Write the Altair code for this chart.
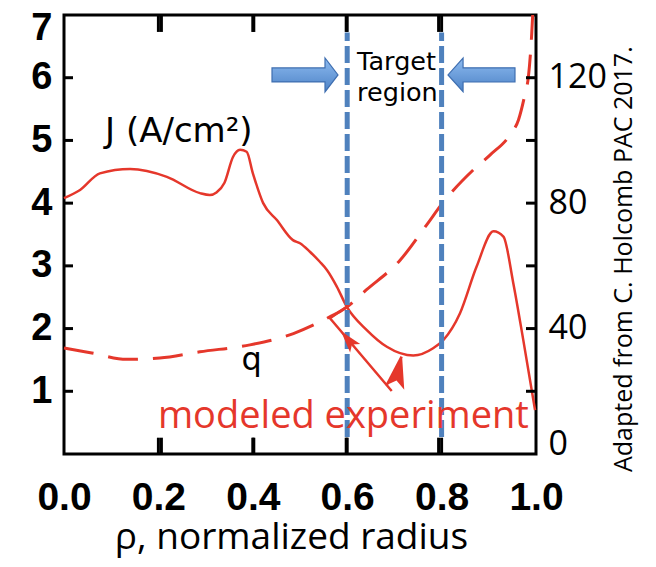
import altair as alt
import pandas as pd

# ---- data ----
rho_J = [0.000, 0.034, 0.076, 0.140, 0.218, 0.288, 0.309, 0.323, 0.340, 0.358, 0.373, 0.387,
         0.400, 0.422, 0.451, 0.485, 0.500, 0.521, 0.542, 0.557, 0.578, 0.599, 0.641, 0.684,
         0.740, 0.782, 0.804, 0.839, 0.874, 0.910, 0.931, 0.952, 0.973, 0.998]
J_vals = [81.6, 84.2, 89.5, 90.9, 88.4, 83.2, 82.6, 83.4, 86.5, 94.7, 97.0, 96.4,
          89.6, 80.0, 74.6, 68.2, 67.2, 64.5, 61.3, 58.7, 53.4, 47.0, 39.6, 34.2,
          31.4, 33.7, 36.4, 44.9, 59.7, 71.0, 69.3, 54.4, 36.4, 14.0]

rho_q = [0.000, 0.059, 0.133, 0.203, 0.288, 0.394, 0.486, 0.535, 0.564, 0.595, 0.641, 0.712,
         0.768, 0.804, 0.867, 0.903, 0.945, 0.963, 0.977, 0.984, 0.991, 0.993]
q_vals = [1.69, 1.61, 1.51, 1.53, 1.63, 1.74, 1.92, 2.08, 2.19, 2.32, 2.62, 3.09,
          3.65, 4.02, 4.53, 4.77, 5.09, 5.33, 5.75, 6.02, 6.71, 7.00]

x_ticks = [0.0, 0.2, 0.4, 0.6, 0.8, 1.0]
inner_x_ticks = [0.2, 0.4, 0.6, 0.8]
left_labels = [1, 2, 3, 4, 5, 6, 7]
left_ticks = [1, 2, 3, 4, 5, 6]
right_labels = [0, 40, 80, 120]
right_ticks = [20, 40, 60, 80, 100, 120]

target_rho = [0.6, 0.8]
target_lo, target_hi = 0.27, 6.72

# annotation anchors (data coordinates: rho, left-axis units)
arrow_line_a_rho = [0.5975, 0.5636, 0.6943]
arrow_line_a_y = [2.340, 2.164, 1.004]
arrow_line_b_rho = [0.6837, 0.7153]
arrow_line_b_y = [1.100, 1.552]
head_a = (0.6019, 1.821)
head_b = (0.7087, 1.308)
blue_left = (0.5106, 6.045)
blue_right = (0.8845, 6.045)

W, H = 472, 439
RED = "#e5372b"
BLUE = "#4f81bd"

xs = alt.Scale(domain=[0, 1], nice=False, zero=False)
yq = alt.Scale(domain=[0, 7], nice=False, zero=False)
yj = alt.Scale(domain=[0, 140], nice=False, zero=False)


def X(field, axis=None):
    return alt.X(field, scale=xs, axis=axis)


def YQ(field):
    return alt.Y(field, scale=yq, axis=None)


df_J = pd.DataFrame({"rho": rho_J, "J": J_vals})
df_q = pd.DataFrame({"rho": rho_q, "q": q_vals})

x_axis = alt.Axis(orient="bottom", values=x_ticks, format=".1f", tickSize=0, domain=False,
                  grid=False, labelFont="Liberation Sans", labelFontWeight="bold",
                  labelFontSize=39, labelColor="black", labelPadding=24, labelFlush=False,
                  title="ρ, normalized radius", titleFont="Open Sans", titleFontWeight="normal",
                  titleFontSize=37, titleColor="black", titleBaseline="alphabetic",
                  titleY=94, titleX=227, titleAlign="center")

left_axis = alt.Axis(orient="left", values=left_labels, tickSize=0, domain=False, grid=False,
                     labelFont="Liberation Sans", labelFontWeight="bold", labelFontSize=38,
                     labelColor="black", labelPadding=12, title=None,
                     labelFlush=True, labelFlushOffset=6)

right_axis = alt.Axis(orient="right", values=right_labels, tickSize=0, domain=False, grid=False,
                      labelFont="Open Sans", labelFontSize=34, labelColor="black",
                      labelPadding=12, title=None, labelFlush=True, labelFlushOffset=7)

# inward ticks on the bottom and top edges (lengths in left-axis units)
edge_rho = inner_x_ticks + inner_x_ticks
edge_lo = [0.0] * 4 + [6.73] * 4
edge_hi = [0.26] * 4 + [7.0] * 4
df_edge = pd.DataFrame({"ex": edge_rho, "elo": edge_lo, "ehi": edge_hi})
edge_rules = alt.Chart(df_edge).mark_rule(color="black", strokeWidth=3, opacity=1).encode(
    x=X("ex:Q"), y=YQ("elo:Q"), y2="ehi:Q")
edge_bars = alt.Chart(df_edge).mark_bar(color="black", size=3, opacity=1).encode(
    x=X("ex:Q"), y=YQ("elo:Q"), y2="ehi:Q")

q_line = alt.Chart(df_q).mark_line(color=RED, strokeWidth=3, strokeDash=[30, 15],
                                   interpolate="monotone").encode(
    x=X("rho:Q", x_axis),
    y=alt.Y("q:Q", scale=yq, axis=left_axis),
)

J_line = alt.Chart(df_J).mark_line(color=RED, strokeWidth=2.5, interpolate="monotone").encode(
    x=X("rho:Q"),
    y=alt.Y("J:Q", scale=yj, axis=right_axis),
)

df_target = pd.DataFrame({"rho": target_rho, "lo": [target_lo] * 2, "hi": [target_hi] * 2})
target_lines = alt.Chart(df_target).mark_rule(color=BLUE, strokeWidth=5, strokeDash=[17, 5]).encode(
    x=X("rho:Q"), y=YQ("lo:Q"), y2="hi:Q")

df_lt = pd.DataFrame({"lv": left_ticks})
lticks = alt.Chart(df_lt).mark_rule(color="black", strokeWidth=3).encode(
    y=YQ("lv:Q"), x=alt.value(0), x2=alt.value(9))

df_rt = pd.DataFrame({"rv": right_ticks})
rticks = alt.Chart(df_rt).mark_rule(color="black", strokeWidth=3).encode(
    y=alt.Y("rv:Q", scale=yj, axis=None), x=alt.value(W - 10), x2=alt.value(W))

# annotation arrows (red)
df_la = pd.DataFrame({"rho": arrow_line_a_rho, "y": arrow_line_a_y, "o": [0, 1, 2]})
df_lb = pd.DataFrame({"rho": arrow_line_b_rho, "y": arrow_line_b_y, "o": [0, 1]})
line_a = alt.Chart(df_la).mark_line(color=RED, strokeWidth=2.5).encode(
    x=X("rho:Q"), y=YQ("y:Q"), order="o:Q")
line_b = alt.Chart(df_lb).mark_line(color=RED, strokeWidth=2.5).encode(
    x=X("rho:Q"), y=YQ("y:Q"), order="o:Q")
HEAD = "M0,-1L0.6,1L0,0.55L-0.6,1Z"
ha = alt.Chart(pd.DataFrame({"rho": [head_a[0]], "y": [head_a[1]]})).mark_point(
    shape=HEAD, filled=True, color=RED, opacity=1, size=484, angle=320).encode(
    x=X("rho:Q"), y=YQ("y:Q"))
hb = alt.Chart(pd.DataFrame({"rho": [head_b[0]], "y": [head_b[1]]})).mark_point(
    shape=HEAD, filled=True, color=RED, opacity=1, size=1024, angle=13).encode(
    x=X("rho:Q"), y=YQ("y:Q"))

# blue block arrows
grad = alt.LinearGradient(gradient="linear",
                          stops=[alt.GradientStop(color="#8dbbf0", offset=0),
                                 alt.GradientStop(color="#4d82c6", offset=1)],
                          x1=0, x2=0, y1=0, y2=1)
RIGHT_ARROW = "M-1,-0.212L0.606,-0.212L0.606,-0.515L1,0L0.606,0.515L0.606,0.212L-1,0.212Z"
LEFT_ARROW = "M1,-0.212L-0.55,-0.212L-0.55,-0.5L-1,0L-0.55,0.5L-0.55,0.212L1,0.212Z"
ba = alt.Chart(pd.DataFrame({"rho": [blue_left[0]], "y": [blue_left[1]]})).mark_point(
    shape=RIGHT_ARROW, filled=True, fill=grad, stroke="#3e6eb0", strokeWidth=1.2,
    opacity=1, size=4356).encode(x=X("rho:Q"), y=YQ("y:Q"))
bb = alt.Chart(pd.DataFrame({"rho": [blue_right[0]], "y": [blue_right[1]]})).mark_point(
    shape=LEFT_ARROW, filled=True, fill=grad, stroke="#3e6eb0", strokeWidth=1.2,
    opacity=1, size=4489).encode(x=X("rho:Q"), y=YQ("y:Q"))


def label(text, rho, y, **kw):
    return alt.Chart(pd.DataFrame({"rho": [rho], "y": [y], "t": [text]})).mark_text(**kw).encode(
        x=X("rho:Q"), y=YQ("y:Q"), text="t:N")


t_J = label("J (A/cm²)", 0.087, 4.98, align="left", baseline="alphabetic",
            font="DejaVu Sans", fontSize=34, color="black")
t_q = label("q", 0.376, 1.34, align="left", baseline="alphabetic",
            font="DejaVu Sans", fontSize=32, color="black")
t_target = label("Target\nregion", 0.621, 6.12, align="left", baseline="alphabetic",
                 font="DejaVu Sans", fontSize=25.5, color="black", lineHeight=31, lineBreak="\n")
t_model = label("modeled experiment", 0.199, 0.41, align="left", baseline="alphabetic",
                font="Open Sans", fontSize=38, color=RED)
t_credit = label("Adapted from C. Holcomb PAC 2017.", 1.1864, -0.287, align="left",
                 baseline="middle", angle=270, font="Open Sans", fontSize=25, color="black")

chart = alt.layer(
    edge_rules, edge_bars, q_line, J_line, target_lines, lticks, rticks, line_a, line_b, ha, hb,
    ba, bb, t_J, t_q, t_target, t_model, t_credit
).resolve_scale(x="independent", y="independent").properties(
    width=W, height=H,
    padding={"left": 56, "top": 7, "right": 112, "bottom": 105},
    autosize=alt.AutoSizeParams(type="none"),
    background="white",
).configure_view(stroke="black", strokeWidth=3)

chart.save("out.html", embed_options={"renderer": "svg", "actions": False})
